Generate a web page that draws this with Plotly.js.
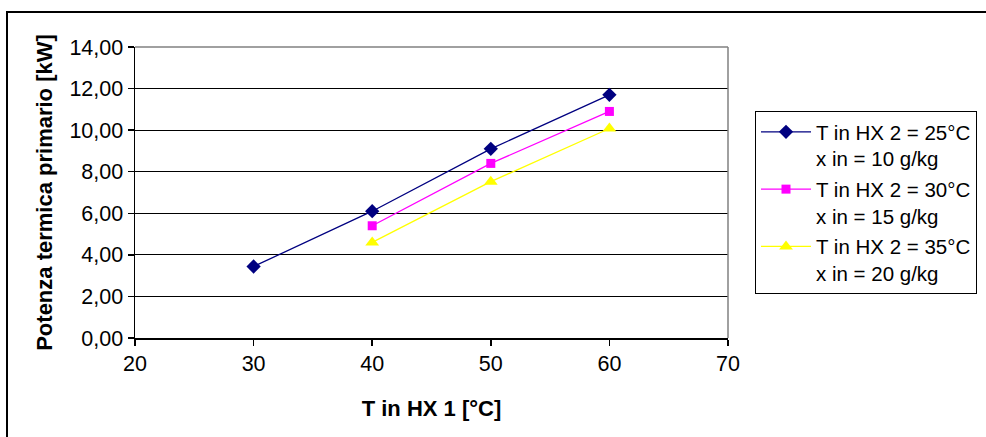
<!DOCTYPE html>
<html>
<head>
<meta charset="utf-8">
<script src="https://cdn.plot.ly/plotly-3.0.1.min.js"></script>
<style>
html,body{margin:0;padding:0;background:#fff;}
#chart{width:986px;height:437px;}
</style>
</head>
<body>
<div id="chart"></div>
<script>
// Data
const xSeries1 = [30, 40, 50, 60];
const ySeries1 = [3.44, 6.10, 9.10, 11.70];
const xSeries2 = [40, 50, 60];
const ySeries2 = [5.40, 8.40, 10.90];
const xSeries3 = [40, 50, 60];
const ySeries3 = [4.60, 7.52, 10.08];
const seriesNames = [
  'T in HX 2 = 25°C<br>x in = 10 g/kg',
  'T in HX 2 = 30°C<br>x in = 15 g/kg',
  'T in HX 2 = 35°C<br>x in = 20 g/kg'
];
const xTicks = [20, 30, 40, 50, 60, 70];
const yTicks = [0, 2, 4, 6, 8, 10, 12, 14];

const FONT = 'Liberation Sans, Arial, sans-serif';

const traces = [
  {x: xSeries1, y: ySeries1, name: seriesNames[0], mode: 'lines+markers', legendgroup: 'a',
   line: {color: '#000080', width: 1.3}, marker: {symbol: 'diamond', size: 11, color: '#000080'}},
  {x: xSeries2, y: ySeries2, name: seriesNames[1], mode: 'lines+markers', legendgroup: 'b',
   line: {color: '#FF00FF', width: 1.3}, marker: {symbol: 'square', size: 9, color: '#FF00FF'}},
  {x: xSeries3, y: ySeries3, name: seriesNames[2], mode: 'lines+markers', legendgroup: 'c',
   line: {color: '#FFFF00', width: 1.3}, marker: {symbol: 'triangle-up', size: 12, color: '#FFFF00'}}
];

const L = 135, R = 258, T = 47, B = 99;
const W = 986 - L - R, H = 437 - T - B;
function px2x(p){ return (p - L) / W; }
function py2y(p){ return (437 - B - p) / H; }

const layout = {
  width: 986, height: 437,
  margin: {l: L, r: R, t: T, b: B, pad: 0, autoexpand: false},
  paper_bgcolor: '#ffffff', plot_bgcolor: '#ffffff',
  font: {family: FONT, size: 21, color: '#000'},
  separators: ',.',
  showlegend: true,
  legend: {
    x: px2x(755), y: py2y(111), xanchor: 'left', yanchor: 'top',
    bordercolor: '#000', borderwidth: 1, bgcolor: '#fff',
    font: {family: FONT, size: 20.5, color: '#000'},
    valign: 'top', tracegroupgap: 1, itemwidth: 50
  },
  xaxis: {
    range: [20, 70], tickvals: xTicks, ticktext: xTicks.map(String),
    showgrid: false, zeroline: false,
    showline: true, linecolor: '#000', linewidth: 1.5,
    ticks: 'outside', ticklen: 6, tickcolor: '#000', tickwidth: 1.5,
    tickfont: {family: FONT, size: 21.5, color: '#000'},
    title: {text: '<b>T in HX 1 [°C]</b>', font: {family: FONT, size: 22, color: '#000'}, standoff: 25},
    automargin: false,
    fixedrange: true
  },
  yaxis: {
    range: [0, 14], tickvals: yTicks, tickformat: '.2f',
    showgrid: true, gridcolor: '#000', gridwidth: 1, zeroline: false,
    showline: true, linecolor: '#000', linewidth: 1.5,
    ticks: 'outside', ticklen: 6, tickcolor: '#000', tickwidth: 1.5,
    tickfont: {family: FONT, size: 21.5, color: '#000'},
    title: {text: '<b>Potenza termica primario [kW]</b>', font: {family: FONT, size: 22, color: '#000'}, standoff: 10},
    automargin: false,
    fixedrange: true
  },
  shapes: [
    // plot area gray border (top and right)
    {type: 'line', xref: 'paper', yref: 'paper', x0: 0, x1: 1, y0: 1, y1: 1, line: {color: '#808080', width: 1.5}, layer: 'above'},
    {type: 'line', xref: 'paper', yref: 'paper', x0: 1, x1: 1, y0: 0, y1: 1, line: {color: '#808080', width: 1.5}, layer: 'above'},
    // outer chart frame
    {type: 'rect', xref: 'paper', yref: 'paper', x0: px2x(7), x1: px2x(1100), y0: py2y(600), y1: py2y(12), line: {color: '#000', width: 2}, fillcolor: 'rgba(0,0,0,0)', layer: 'above'}
  ]
};

Plotly.newPlot('chart', traces, layout, {displayModeBar: false, staticPlot: true});
</script>
</body>
</html>
